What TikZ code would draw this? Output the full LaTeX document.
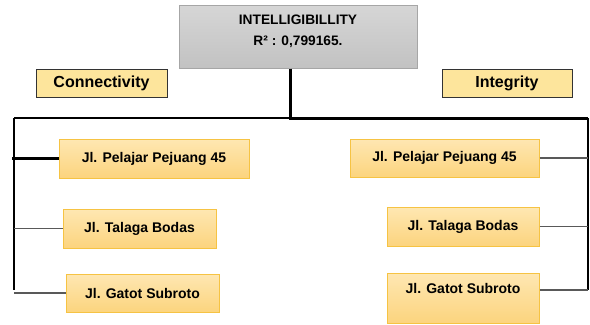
\documentclass[tikz,border=0pt]{standalone}
\usepackage{fontspec}
\setmainfont{Liberation Sans}
\definecolor{headfill}{HTML}{FDE59C}
\definecolor{itemtop}{HTML}{FEE7B2}
\definecolor{itembot}{HTML}{FCD47E}
\definecolor{itemline}{HTML}{F6C343}
\definecolor{grtop}{HTML}{D6D6D6}
\definecolor{grbot}{HTML}{C2C2C2}
\tikzset{
	topbox/.style={draw=black!35,top color=grtop,bottom color=grbot,line width=0.75pt},
	headbox/.style={draw=black!80,fill=headfill,line width=0.75pt,inner sep=0pt,font=\bfseries\fontsize{12}{14}\selectfont},
	itembox/.style={draw=itemline,top color=itemtop,bottom color=itembot,line width=0.75pt,inner sep=0pt,font=\bfseries\fontsize{10.5}{12}\selectfont},
	conn/.style={draw=black!65,line width=1pt}
}
\begin{document}
\begin{tikzpicture}[x=0.75pt,y=-0.75pt]
		\useasboundingbox (0,0) rectangle (590,325);
		\node[topbox,minimum width=178.5pt,minimum height=47.25pt](intel) at (298,36.5){};
		\node[font=\bfseries\fontsize{10.3}{15.75}\selectfont,align=center](inteltxt) at (298,31.5){INTELLIGIBILLITY\\R² : 0,799165.};
		\node[headbox,minimum width=98.25pt,minimum height=21pt](conn) at (101.5,83){Connectivity};
		\node[headbox,minimum width=97.5pt,minimum height=21pt](integ) at (507,83){Integrity};
		% left column
		\node[itembox,minimum width=142.5pt,minimum height=29.25pt](L1) at (154,158.5){Jl. Pelajar Pejuang 45};
		\node[itembox,minimum width=114.75pt,minimum height=29.25pt](L2) at (139.5,228.5){Jl. Talaga Bodas};
		\node[itembox,minimum width=114.75pt,minimum height=28.5pt](L3) at (142.5,293){Jl. Gatot Subroto};
		% right column
		\node[itembox,minimum width=141.75pt,minimum height=28.5pt](R1) at (444.5,158){Jl. Pelajar Pejuang 45};
		\node[itembox,minimum width=114pt,minimum height=29.25pt](R2) at (463,226.5){Jl. Talaga Bodas};
		\node[itembox,minimum width=114pt,text height=15.4pt,text depth=22.1pt](R3) at (463,298){Jl. Gatot Subroto};
		\coordinate(split) at (290,118);
		\coordinate(lc) at (14,118);
		\coordinate(rc) at (588,118);
		\coordinate(lb) at (14,290);
		\coordinate(rb) at (588,290);
		\draw[line width=2.25pt](intel.south -| split)--(split)--(rc);
		\draw[line width=1.9pt](rc)--(rb);
		\draw[line width=1.2pt](split)--(lc);
		\draw[line width=1.5pt](lc)--(lb);
		\draw[line width=2.25pt]([xshift=-1.5pt]lc |- L1.west)--(L1.west);
		\foreach \n in {L2,L3}
			\draw[conn](lc |- \n.west)--(\n.west);
		\foreach \n in {R1,R2}
			\draw[conn](\n.east)--(rc |- \n.east);
		\draw[conn]([yshift=6pt]R3.east)--(rb);
	\end{tikzpicture}
\end{document}
